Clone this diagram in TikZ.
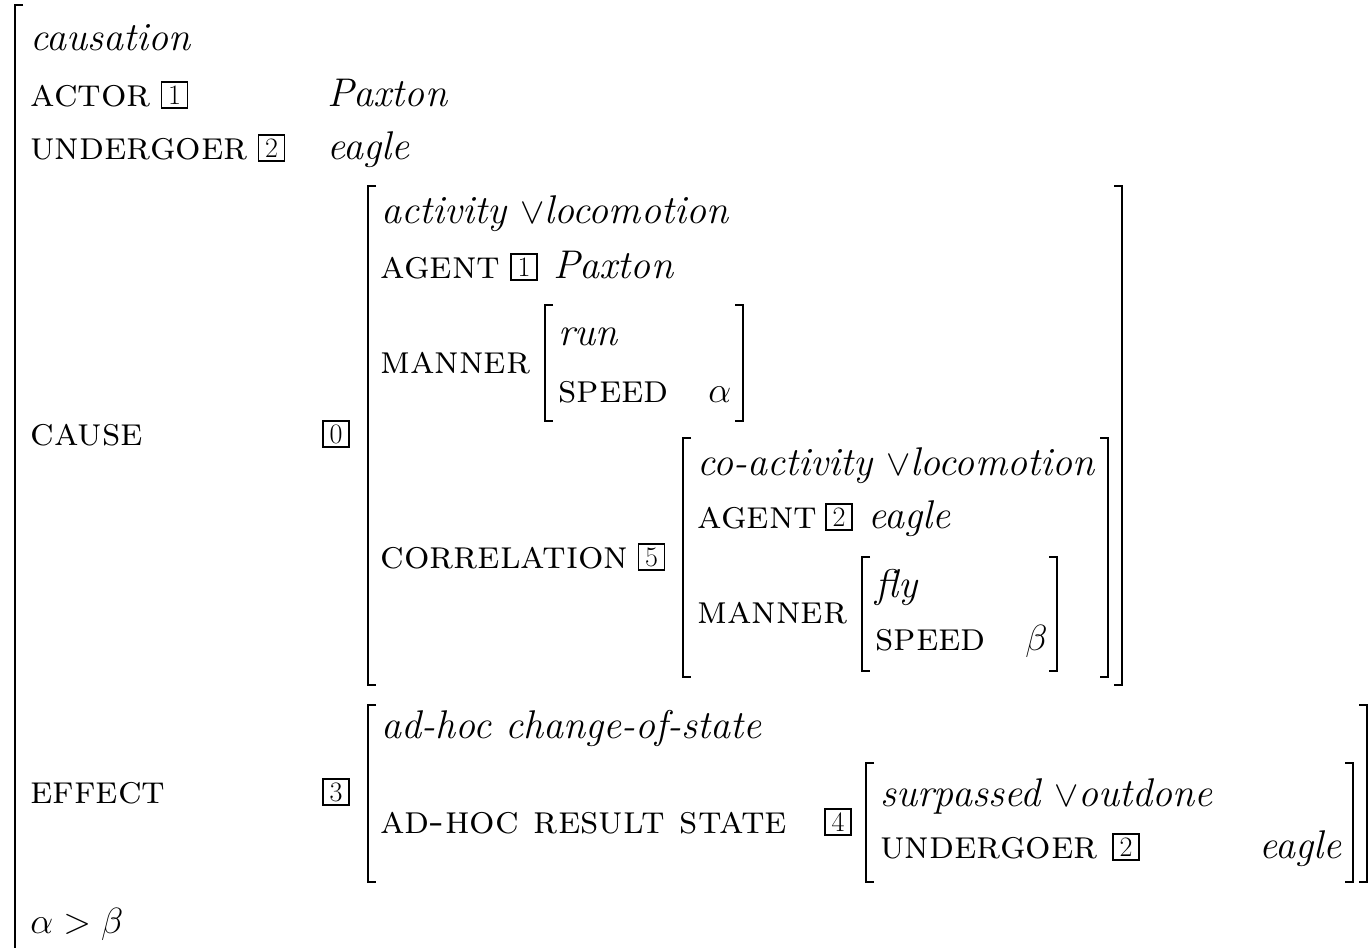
\documentclass[tikz,border=0pt]{standalone}
\usepackage{tikz}
\usetikzlibrary{positioning}
\newcommand{\avmfont}{\fontsize{22.8}{27}\selectfont}
% square brackets of the matrices: x, top, bottom
\newcommand{\lbrak}[3]{\draw[brak] (#1+8,#2) -- (#1,#2) -- (#1,#3) -- (#1+8,#3);}
\newcommand{\rbrak}[3]{\draw[brak] (#1-8,#2) -- (#1,#2) -- (#1,#3) -- (#1-8,#3);}

\begin{document}
\begin{tikzpicture}[x=0.02cm,y=-0.02cm,font=\avmfont,
  feat/.style={anchor=base west,inner sep=0pt,font=\avmfont\scshape},
  typ/.style={anchor=base west,inner sep=0pt,font=\avmfont\itshape},
  val/.style={anchor=base west,inner sep=0pt},
  tag/.style={draw,line width=0.8pt,inner sep=0pt,minimum size=14.8pt,
    font=\fontsize{16}{16}\selectfont},
  brak/.style={line width=1.1pt}]
  \useasboundingbox (0,0) rectangle (1372,947);

  % outer matrix
  \draw[brak] (23,5) -- (15,5) -- (15,960);
  \node[typ] (causation) at (30,50) {causation};
  \node[feat] (actor) at (30,106) {actor};
  \node[tag] (tag1) at (174.5,95) {1};
  \node[typ] (actorval) at (327,106) {Paxton};
  \node[feat] (undergoer) at (30,159) {undergoer};
  \node[tag] (tag2) at (271.5,148) {2};
  \node[typ] (undergoerval) at (327,159) {eagle};
  \node[feat] (cause) at (30,445) {cause};
  \node[tag] (tag0) at (336,434) {0};
  \node[feat] (effect) at (30,803) {effect};
  \node[tag] (tag3) at (336,792) {3};
  \node[val] (ineq) at (30,933) {$\alpha > \beta$};

  % cause
  \lbrak{368}{186}{685}
  \rbrak{1122}{186}{685}
  \node[typ] (activity) at (381,223) {activity $\vee$locomotion};
  \node[feat] (agent) at (380,278) {agent};
  \node[tag] (agenttag) at (524,267) {1};
  \node[typ] (agentval) at (553,278) {Paxton};
  \node[feat] (manner) at (380,373) {manner};
  \lbrak{545}{305}{421}
  \rbrak{743}{305}{421}
  \node[typ] (run) at (558,345) {run};
  \node[feat] (speed) at (558,402) {speed};
  \node[val] (speedval) at (708,402) {$\alpha$};
  \node[feat] (correlation) at (380,568) {correlation};
  \node[tag] (tag5) at (651.5,557) {5};

  % correlation
  \lbrak{683}{438}{677}
  \rbrak{1108}{438}{677}
  \node[typ] (coactivity) at (697,475) {co-activity $\vee$locomotion};
  \node[feat] (coagent) at (697,528) {agent};
  \node[tag] (coagenttag) at (839,517) {2};
  \node[typ] (coagentval) at (868,528) {eagle};
  \node[feat] (comanner) at (697,623) {manner};
  \lbrak{862}{557}{671}
  \rbrak{1057}{557}{671}
  \node[typ] (fly) at (875,597) {fly};
  \node[feat] (cospeed) at (875,650) {speed};
  \node[val] (cospeedval) at (1025,650) {$\beta$};

  % effect
  \lbrak{368}{705}{882}
  \rbrak{1367}{705}{882}
  \node[typ] (adhoc) at (381,738) {ad-hoc change-of-state};
  \node[feat] (result) at (380,833) {ad-hoc result state};
  \node[tag] (tag4) at (838,822) {4};
  \lbrak{866}{763}{882}
  \rbrak{1353}{763}{882}
  \node[typ] (surpassed) at (880,806) {surpassed $\vee$outdone};
  \node[feat] (resundergoer) at (880,858) {undergoer};
  \node[tag] (restag) at (1126,847) {2};
  \node[typ,anchor=base east] (resval) at (1342,858) {eagle};
\end{tikzpicture}
\end{document}
